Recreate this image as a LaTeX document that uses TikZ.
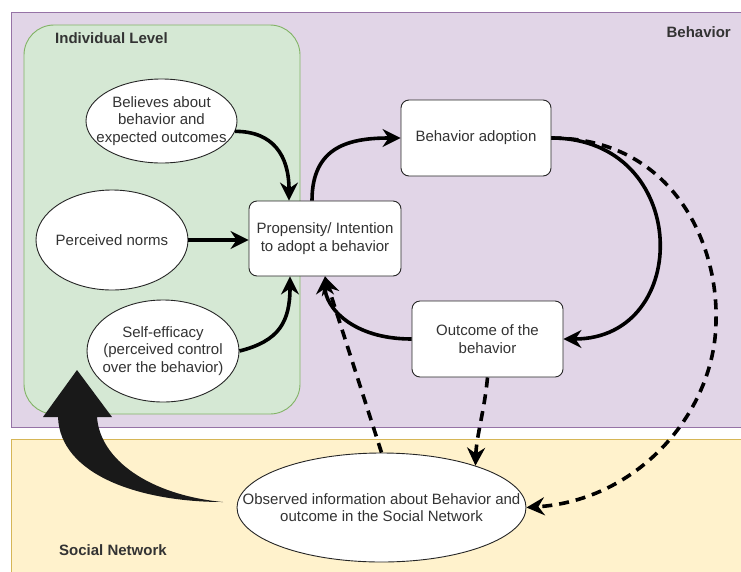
\documentclass[tikz,border=0pt]{standalone}
\usepackage{fontspec}
\setmainfont{Liberation Sans}
\usetikzlibrary{shapes.geometric,arrows.meta,calc}
\definecolor{purpfill}{HTML}{E1D5E7}
\definecolor{purpline}{HTML}{9673A6}
\definecolor{greenfill}{HTML}{D5E8D4}
\definecolor{greenline}{HTML}{82B366}
\definecolor{yelfill}{HTML}{FFF2CC}
\definecolor{yelline}{HTML}{D6B656}
\begin{document}
\begin{tikzpicture}[x=1pt,y=-1pt,
  txt/.style={font=\fontsize{15}{17.5}\selectfont, text=black!80, align=center},
  lbl/.style={font=\fontsize{15}{17.5}\selectfont\bfseries, text=black!80, inner sep=0pt},
  oval/.style={ellipse, draw=black!85, fill=white, line width=0.9pt, inner xsep=-60pt, inner ysep=-20pt, txt},
  rbox/.style={rectangle, rounded corners=8pt, draw=black!85, fill=white, line width=0.9pt, inner sep=0pt, txt},
  conn/.style={line width=3.6pt, -{Stealth[length=18pt,width=18pt,inset=6pt]}},
  dconn/.style={conn, dash pattern=on 10pt off 7pt}]
\useasboundingbox (0,0) rectangle (741,571);
\clip (0,0) rectangle (741,571);
\fill[white] (0,0) rectangle (741,571);
% regions
\draw[purpline, fill=purpfill, line width=0.9pt] (11,12) rectangle (750,427);
\draw[yelline, fill=yelfill, line width=0.9pt] (11,439) rectangle (750,580);
\draw[greenline, fill=greenfill, line width=0.9pt, rounded corners=30pt] (24,25) rectangle (300,414);
\node[lbl, anchor=west] (lind) at (55,38) {Individual Level};
\node[lbl, anchor=east] (lbeh) at (731,32) {Behavior};
\node[lbl, anchor=west] (lsoc) at (59,550) {Social Network};
% nodes
\node[oval, minimum width=151pt, minimum height=84pt] (b1) at (161.5,121) {Believes about\\behavior and\\expected outcomes};
\node[oval, minimum width=152pt, minimum height=100pt] (b2) at (112,240) {Perceived norms};
\node[oval, minimum width=152pt, minimum height=102pt] (b3) at (163,351) {Self-efficacy\\(perceived control\\over the behavior)};
\node[rbox, minimum width=152pt, minimum height=75pt] (prop) at (325,238.5) {Propensity/ Intention\\to adopt a behavior};
\node[rbox, minimum width=150pt, minimum height=76pt] (adopt) at (476,138) {Behavior adoption};
\node[rbox, minimum width=151pt, minimum height=76pt] (outc) at (487.5,339) {Outcome of the\\behavior};
\node[oval, inner xsep=-100pt, minimum width=289pt, minimum height=109pt] (obs) at (381.5,507.5) {Observed information about Behavior and\\outcome in the Social Network};
% big curved block arrow
\fill[black!90] (223,502) .. controls (140,502) and (60,475) .. (58,417) -- (43,417) -- (77,370) -- (112,417) -- (97,417) .. controls (100,460) and (150,495) .. (223,502) -- cycle;
% solid connectors
\draw[conn] (b1.-8) .. controls +(38,0) and +(0,-45) .. ($(prop.north)+(-36,0)$);
\draw[conn] (b2.east) -- (b2.east -| prop.west);
\draw[conn] (b3.east) .. controls +(40,-10) and +(0,45) .. ($(prop.south)+(-35,0)$);
\draw[conn] ($(prop.north)+(-13,0)$) .. controls +(0,-55) and +(-50,0) .. (adopt.west);
\draw[conn] (adopt.east) .. controls +(140,0) and +(130,0) .. (outc.east);
\draw[conn] (outc.west) .. controls +(-60,0) and +(0,30) .. (prop.south);
% dashed connectors
\draw[dconn] (obs.north) -- (prop.south);
\draw[dconn] (outc.south) .. controls +(-3,33) and +(1,-30) .. (obs.24);
\draw[dconn] (adopt.east) .. controls (670,138) and (718,240) .. (716,320) .. controls (716,410) and (640,500) .. (obs.east);
\end{tikzpicture}
\end{document}
